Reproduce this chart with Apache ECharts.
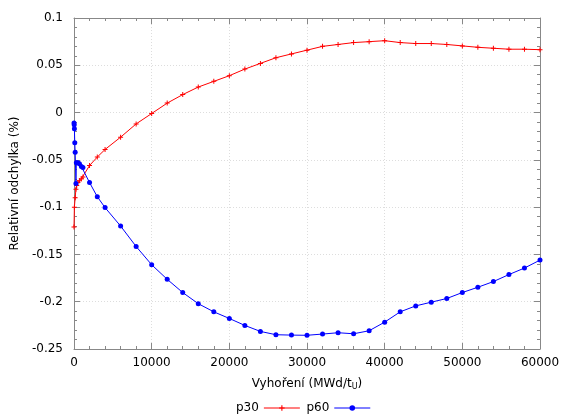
<!DOCTYPE html>
<html><head><meta charset="utf-8">
<script src="https://cdn.jsdelivr.net/npm/echarts@6/dist/echarts.min.js"></script>
<style>html,body{margin:0;padding:0;background:#fff}#c{width:563px;height:419px}</style>
</head><body><div id="c"></div>
<script>
// Data (burnup in MWd/tU, relative deviation in %)
const p30Burnup = [0, 50, 150, 250, 350, 500, 700, 950, 1150, 2000, 3000, 4000, 6000, 8000, 10000, 12000, 14000, 16000, 18000, 20000, 22000, 24000, 26000, 28000, 30000, 32000, 34000, 36000, 38000, 40000, 42000, 44000, 46000, 48000, 50000, 52000, 54000, 56000, 58000, 60000];
const p30Values = [-0.121, -0.100, -0.090, -0.081, -0.077, -0.074, -0.072, -0.070, -0.068, -0.056, -0.047, -0.039, -0.026, -0.012, -0.001, 0.010, 0.019, 0.027, 0.033, 0.039, 0.046, 0.052, 0.058, 0.062, 0.066, 0.070, 0.072, 0.074, 0.075, 0.076, 0.074, 0.073, 0.073, 0.072, 0.0705, 0.069, 0.068, 0.067, 0.067, 0.0665];
const p60Burnup = [0, 25, 50, 100, 150, 250, 300, 500, 700, 950, 1150, 2000, 3000, 4000, 6000, 8000, 10000, 12000, 14000, 16000, 18000, 20000, 22000, 24000, 26000, 28000, 30000, 32000, 34000, 36000, 38000, 40000, 42000, 44000, 46000, 48000, 50000, 52000, 54000, 56000, 58000, 60000];
const p60Values = [-0.011, -0.013, -0.017, -0.032, -0.042, -0.075, -0.053, -0.053, -0.054, -0.057, -0.058, -0.074, -0.089, -0.1005, -0.120, -0.1416, -0.1609, -0.1763, -0.1903, -0.2021, -0.2107, -0.2177, -0.2251, -0.2314, -0.2349, -0.2353, -0.2355, -0.2342, -0.2328, -0.2339, -0.2307, -0.2216, -0.2107, -0.2044, -0.2005, -0.1966, -0.1903, -0.1847, -0.1787, -0.1713, -0.1644, -0.156];
const seriesNames = ['p30', 'p60'];
const xTitle = 'Vyhoření (MWd/t{sub|U})';
const yTitle = 'Relativní odchylka (%)';

const FONT = 'DejaVu Sans';
const zip = (a, b) => a.map((v, i) => [v, b[i]]);
const plus = 'path://M2,0H3V5H2Z M0,2H5V3H0Z';
const axisLineColor = '#888';
const common = {
  axisLine: { show: true, onZero: false, lineStyle: { color: axisLineColor, width: 1 } },
  axisTick: { show: true, inside: true, length: 6, lineStyle: { color: axisLineColor } },
  minorTick: { show: true, splitNumber: 5, length: 3, lineStyle: { color: axisLineColor } },
};
const chart = echarts.init(document.getElementById('c'), null, { renderer: 'canvas' });
chart.setOption({
  animation: false,
  textStyle: { fontFamily: FONT },
  grid: { left: 74, right: 23, top: 18, bottom: 70, containLabel: false, outerBoundsMode: 'none' },
  legend: {
    bottom: 0, left: 231, align: 'right', itemWidth: 36, itemHeight: 7, itemGap: 6,
    textStyle: { fontFamily: FONT, fontSize: 12, color: '#000' },
    lineStyle: { width: 1 },
    data: seriesNames
  },
  xAxis: [
    Object.assign({
      type: 'value', min: 0, max: 60000, interval: 10000, position: 'bottom',
      name: xTitle, nameLocation: 'middle', nameGap: 28,
      nameTextStyle: { fontFamily: FONT, fontSize: 12, color: '#000', rich: { sub: { fontSize: 8, verticalAlign: 'bottom', padding: [6, 0, 0, 0], fontFamily: FONT } } },
      axisLabel: { fontFamily: FONT, fontSize: 12, color: '#000', margin: 8, formatter: v => String(v) },
      splitLine: { show: true, lineStyle: { color: '#ddd', type: [1, 2] } }
    }, common),
    Object.assign({
      type: 'value', min: 0, max: 60000, interval: 10000, position: 'top',
      axisLabel: { show: false }, splitLine: { show: false }
    }, common)
  ],
  yAxis: [
    Object.assign({
      type: 'value', min: -0.25, max: 0.1, interval: 0.05, position: 'left',
      name: yTitle, nameLocation: 'middle', nameGap: 51,
      nameTextStyle: { fontFamily: FONT, fontSize: 12, color: '#000' },
      axisLabel: { fontFamily: FONT, fontSize: 12, color: '#000', margin: 11,
        formatter: v => String(parseFloat(v.toFixed(2))) },
      splitLine: { show: true, lineStyle: { color: '#ddd', type: [1, 2] } }
    }, common),
    Object.assign({
      type: 'value', min: -0.25, max: 0.1, interval: 0.05, position: 'right',
      axisLabel: { show: false }, splitLine: { show: false }
    }, common)
  ],
  series: [
    {
      name: seriesNames[0], type: 'line', xAxisIndex: 0, yAxisIndex: 0,
      data: zip(p30Burnup, p30Values),
      symbol: plus, symbolSize: 5, showSymbol: true,
      lineStyle: { color: '#ff0000', width: 1 }, itemStyle: { color: '#ff0000' },
      z: 3
    },
    {
      name: seriesNames[1], type: 'line', xAxisIndex: 0, yAxisIndex: 0,
      data: zip(p60Burnup, p60Values),
      symbol: 'circle', symbolSize: 5, showSymbol: true,
      lineStyle: { color: '#0000ff', width: 1 }, itemStyle: { color: '#0000ff' },
      z: 4
    }
  ]
});
</script></body></html>
